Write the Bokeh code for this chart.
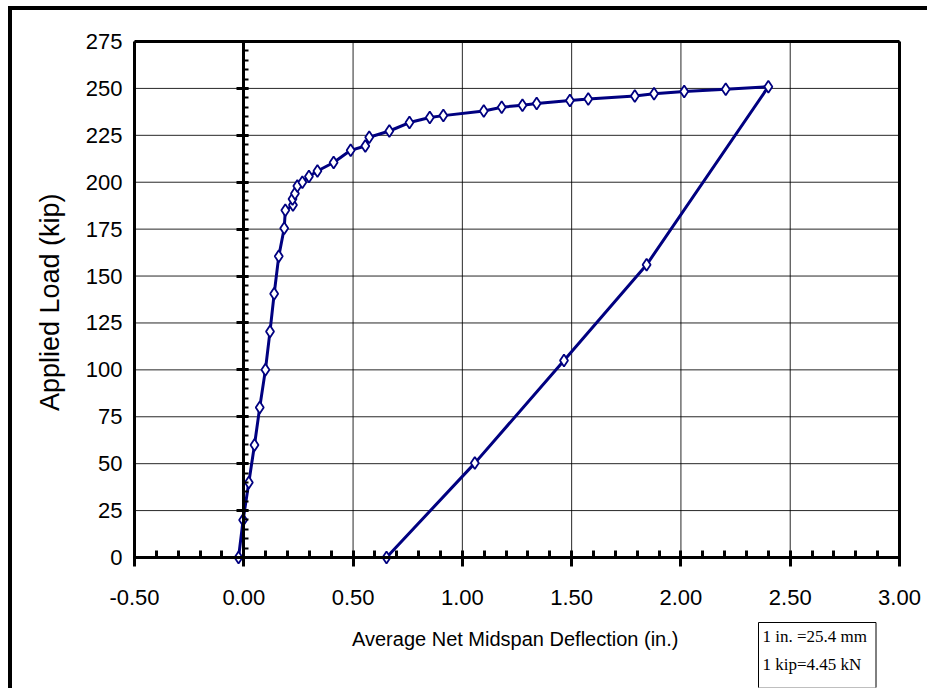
import math
from bokeh.plotting import figure
from bokeh.models import (Range1d, FixedTicker, NumeralTickFormatter, LinearAxis, Label,
                          CustomLabelingPolicy)
from bokeh.layouts import column
from bokeh.embed import file_html
from bokeh.resources import INLINE

# ---- data ----
load_defl = [-0.024, -0.003, 0.023, 0.049, 0.073, 0.099, 0.120, 0.139, 0.160, 0.185,
             0.190, 0.225, 0.223, 0.234, 0.245, 0.268, 0.298, 0.337, 0.411, 0.489,
             0.556, 0.574, 0.666, 0.758, 0.851, 0.913, 1.098, 1.180, 1.275, 1.340,
             1.492, 1.576, 1.789, 1.877, 2.015, 2.205, 2.400]
load_kip = [0, 20, 40, 60, 80, 100, 120.5, 140.5, 160.5, 175.5,
            185, 187.8, 191, 194, 198, 200, 203, 206, 210.5, 217,
            219.3, 224, 227.3, 231.8, 234.5, 235.5, 238, 240, 241, 242,
            243.6, 244.3, 246, 247.2, 248.3, 249.5, 250.9]
unload_defl = [1.843, 1.465, 1.057, 0.653]
unload_kip = [156, 105, 50.3, 0]

x_min, x_max = -0.5, 3.0
y_min, y_max = 0, 275
x_ticks = [-0.5, 0.0, 0.5, 1.0, 1.5, 2.0, 2.5, 3.0]
x_minor = [round(-0.5 + 0.1 * i, 2) for i in range(36)]
y_ticks = list(range(0, 276, 25))
y_minor = list(range(0, 276, 5))

x_title = "Average Net Midspan Deflection  (in.)"
y_title = "Applied Load  (kip)"
note_text = "1 in. =25.4 mm\n1 kip=4.45 kN"

defl = load_defl + unload_defl
kip = load_kip + unload_kip

FONT = "Liberation Sans"
NAVY = "#000080"

# ---- geometry (pixels) ----
# The plot box is 765 x 516 px.  The Bokeh frame is made larger than the box so
# that tick labels, titles and the note (all drawn inside the frame) are not clipped.
BOX_W, BOX_H = 765, 516
PAD_L, PAD_R, PAD_T, PAD_B = 104, 27, 13, 130      # frame extension around the box
FRAME_W = BOX_W + PAD_L + PAD_R
FRAME_H = BOX_H + PAD_T + PAD_B
sx = BOX_W / (x_max - x_min)
sy = BOX_H / (y_max - y_min)
xr = Range1d(x_min - PAD_L / sx, x_max + PAD_R / sx)
yr = Range1d(y_min - PAD_B / sy, y_max + PAD_T / sy)

p = figure(frame_width=FRAME_W, frame_height=FRAME_H,
           min_border_left=18, min_border_top=18, min_border_right=1, min_border_bottom=1,
           x_range=xr, y_range=yr,
           output_backend="svg", toolbar_location=None,
           background_fill_color="white", border_fill_color="white")
p.outline_line_color = None
p.grid.visible = False

no_labels = CustomLabelingPolicy(code="""
    const all = [...indices]
    for (const i of all) indices.unset(i)
    return indices
""")

# grid lines inside the box
p.segment(x0=x_ticks, y0=[y_min] * len(x_ticks), x1=x_ticks, y1=[y_max] * len(x_ticks),
          line_color="black", line_width=1, line_alpha=0.85)
p.segment(x0=[x_min] * len(y_ticks), y0=y_ticks, x1=[x_max] * len(y_ticks), y1=y_ticks,
          line_color="black", line_width=1, line_alpha=0.85)

# bottom axis at y = 0
xa = p.xaxis[0]
xa.fixed_location = y_min
xa.bounds = (x_min, x_max)
xa.ticker = FixedTicker(ticks=x_ticks, minor_ticks=x_minor)
xa.formatter = NumeralTickFormatter(format="0.00")
xa.axis_line_width = 3
xa.major_tick_in = 3
xa.major_tick_out = 9
xa.major_tick_line_width = 3
xa.minor_tick_in = 7
xa.minor_tick_out = 0
xa.minor_tick_line_width = 3
xa.major_label_text_font = FONT
xa.major_label_text_font_size = "22px"
xa.major_label_text_color = "black"
xa.major_label_standoff = 23

# left edge of the box with the load labels
ya = p.yaxis[0]
ya.fixed_location = x_min
ya.bounds = (y_min, y_max)
ya.ticker = FixedTicker(ticks=y_ticks)
ya.axis_line_width = 3
ya.axis_line_color = "black"
ya.major_tick_in = 0
ya.major_tick_out = 0
ya.minor_tick_in = 0
ya.minor_tick_out = 0
ya.major_label_text_font = FONT
ya.major_label_text_font_size = "22px"
ya.major_label_text_color = "black"
ya.major_label_standoff = 12

# right and top edges of the box
right_edge = LinearAxis(fixed_location=x_max, bounds=(y_min, y_max),
                        ticker=FixedTicker(ticks=[]), axis_line_width=3,
                        major_tick_in=0, major_tick_out=0, minor_tick_in=0, minor_tick_out=0,
                        major_label_policy=no_labels)
p.add_layout(right_edge, "right")
top_edge = LinearAxis(fixed_location=y_max, bounds=(x_min, x_max),
                      ticker=FixedTicker(ticks=[]), axis_line_width=3,
                      major_tick_in=0, major_tick_out=0, minor_tick_in=0, minor_tick_out=0,
                      major_label_policy=no_labels)
p.add_layout(top_edge, "above")

# vertical axis drawn at x = 0 (ticks only)
y0 = LinearAxis(fixed_location=0, bounds=(y_min, y_max),
                ticker=FixedTicker(ticks=y_ticks, minor_ticks=y_minor),
                axis_line_width=3, axis_line_color="black",
                major_tick_in=5, major_tick_out=7, major_tick_line_width=3,
                minor_tick_in=5, minor_tick_out=0, minor_tick_line_width=2,
                major_label_policy=no_labels)
p.add_layout(y0, "left")

# data
p.line(defl, kip, line_color=NAVY, line_width=3)
p.scatter(defl, kip, marker="diamond", size=12, fill_color="white",
          line_color=NAVY, line_width=1.8)

# axis titles (screen units from the frame's bottom-left corner)
p.add_layout(Label(x=PAD_L + BOX_W / 2 + 1, y=PAD_B - 81, x_units="screen", y_units="screen",
                   text=x_title, text_font=FONT, text_font_size="20px", text_color="black",
                   text_align="center", text_baseline="middle"))
p.add_layout(Label(x=PAD_L - 85, y=PAD_B + BOX_H / 2 + 1, x_units="screen", y_units="screen",
                   text=y_title, text_font=FONT, text_font_size="27px", text_color="black",
                   text_align="center", text_baseline="middle", angle=math.pi / 2))

# conversion note box
p.add_layout(Label(x=PAD_L + 624, y=PAD_B - 65, x_units="screen", y_units="screen",
                   text=note_text,
                   text_font="Liberation Serif", text_font_size="17px", text_color="black",
                   text_align="left", text_baseline="top", text_line_height=1.5,
                   border_line_color="black", border_line_width=1,
                   background_fill_color="white",
                   padding=dict(left=4, right=9, top=4, bottom=14)))

layout = column(p, styles={"border-top": "4px solid black", "border-left": "4px solid black",
                           "margin-left": "8px", "margin-top": "6px"})

open("out.html", "w").write(file_html(layout, INLINE))
